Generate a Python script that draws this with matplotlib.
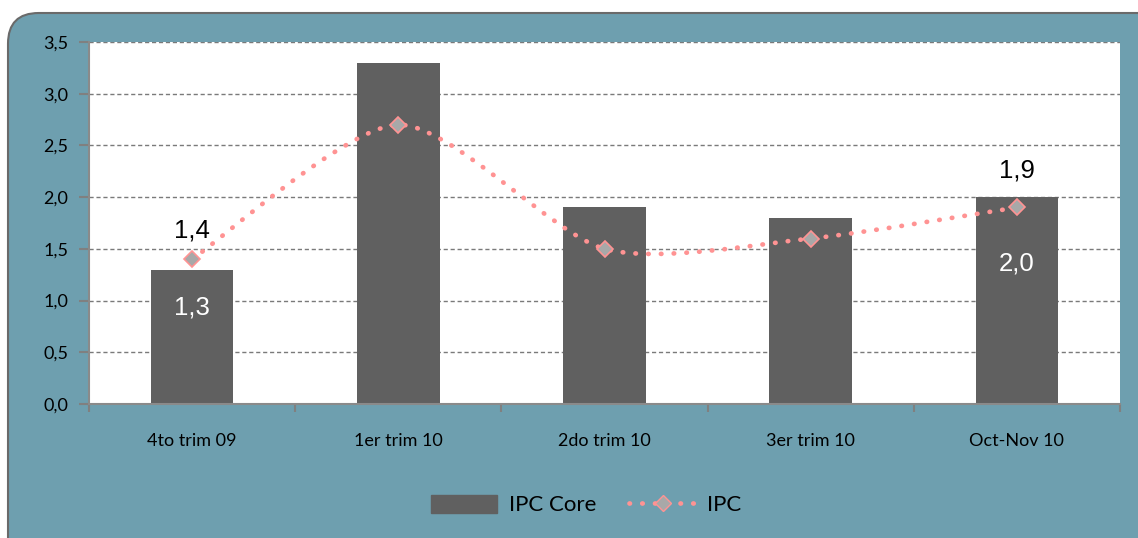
import numpy as np
import matplotlib
matplotlib.use("Agg")
import matplotlib.pyplot as plt
from matplotlib.patches import FancyBboxPatch, PathPatch
from matplotlib.path import Path
from matplotlib.lines import Line2D

categories = ["4to trim 09", "1er trim 10", "2do trim 10", "3er trim 10", "Oct-Nov 10"]
ipc_core = [1.3, 3.3, 1.9, 1.8, 2.0]
ipc = [1.4, 2.7, 1.5, 1.6, 1.9]
yticks = [0.0, 0.5, 1.0, 1.5, 2.0, 2.5, 3.0, 3.5]

teal = "#6E9FAF"
bar_col = "#606060"
pink = "#FF9393"

fig = plt.figure(figsize=(11.38, 5.38), dpi=100)
fig.patch.set_facecolor("white")

# rounded teal frame
frame = FancyBboxPatch((8 / 1138, -0.1), 1.2, 1 - 13 / 538 + 0.1,
                       boxstyle="round,pad=0,rounding_size=0.027",
                       transform=fig.transFigure, facecolor=teal,
                       edgecolor="#6a6a6a", linewidth=1.5, zorder=-10,
                       mutation_aspect=1138 / 538)
fig.patches.append(frame)

ax = fig.add_axes([89 / 1138, 1 - 404 / 538, (1120 - 89) / 1138, (404 - 42) / 538])
ax.set_facecolor("white")

x = np.arange(len(categories))
ax.bar(x, ipc_core, width=0.4, color=bar_col, zorder=2)

# smoothed line (bezier segments through the points)
pts = np.column_stack([x, ipc]).astype(float)
verts = [tuple(pts[0])]
codes = [Path.MOVETO]
for i in range(len(pts) - 1):
    p0 = pts[i - 1] if i > 0 else pts[i]
    p1 = pts[i]
    p2 = pts[i + 1]
    p3 = pts[i + 2] if i + 2 < len(pts) else pts[i + 1]
    c1 = p1 + (p2 - p0) / 8
    c2 = p2 - (p3 - p1) / 8
    verts += [tuple(c1), tuple(c2), tuple(p2)]
    codes += [Path.CURVE4] * 3
line = PathPatch(Path(verts, codes), facecolor="none", edgecolor=pink,
                 linewidth=3.4, linestyle=(0, (0.1, 2.6)), capstyle="round", zorder=3)
ax.add_patch(line)
ax.plot(x, ipc, linestyle="none", marker="D", markersize=8, markerfacecolor="#A8A8A8",
        markeredgecolor=pink, markeredgewidth=1.2, zorder=4)

# data labels
lab_font = dict(family="Liberation Sans", fontsize=18.5)
ax.text(x[0], ipc[0] + 0.28, "1,4", ha="center", va="center", color="black", **lab_font)
ax.text(x[4], ipc[4] + 0.36, "1,9", ha="center", va="center", color="black", **lab_font)
ax.text(x[0], 0.93, "1,3", ha="center", va="center", color="white", **lab_font)
ax.text(x[4], 1.36, "2,0", ha="center", va="center", color="white", **lab_font)

ax.set_xlim(-0.5, len(categories) - 0.5)
ax.set_ylim(0, 3.5)
ax.set_yticks(yticks)
ax.set_yticklabels([f"{v:.1f}".replace(".", ",") for v in yticks], fontsize=13, family="Lato")
ax.yaxis.grid(True, linestyle=(0, (3, 2)), color="#7a7a7a", linewidth=1.0, zorder=0)
ax.set_axisbelow(True)

ax.set_xticks(np.arange(-0.5, len(categories) + 0.5, 1))
ax.set_xticklabels([])
ax.set_xticks(x, minor=True)
ax.set_xticklabels(categories, minor=True, fontsize=13, family="Lato")
ax.tick_params(axis="x", which="minor", length=0, pad=21)
ax.tick_params(axis="x", which="major", length=6, color="#808080", width=1.5)
ax.tick_params(axis="y", length=7, color="#808080", width=1.5, pad=8)

for s in ["top", "right"]:
    ax.spines[s].set_visible(False)
for s in ["left", "bottom"]:
    ax.spines[s].set_color("#8a8a8a")
    ax.spines[s].set_linewidth(1.5)

handles = [
    plt.Rectangle((0, 0), 1, 1, color=bar_col),
    Line2D([0], [0], color=pink, linewidth=3.4, linestyle=(0, (0.1, 2.6)),
           dash_capstyle="round", marker="D", markersize=8,
           markerfacecolor="#A8A8A8", markeredgecolor=pink),
]
fig.legend(handles, ["IPC Core", "IPC"], loc="center", bbox_to_anchor=(0.515, 1 - 505 / 538),
           ncol=2, frameon=False, prop={"family": "Lato", "size": 16},
           handlelength=3.0, handleheight=0.9, columnspacing=1.5, handletextpad=0.5)

fig.savefig("out.png", dpi=100, facecolor=fig.get_facecolor())
